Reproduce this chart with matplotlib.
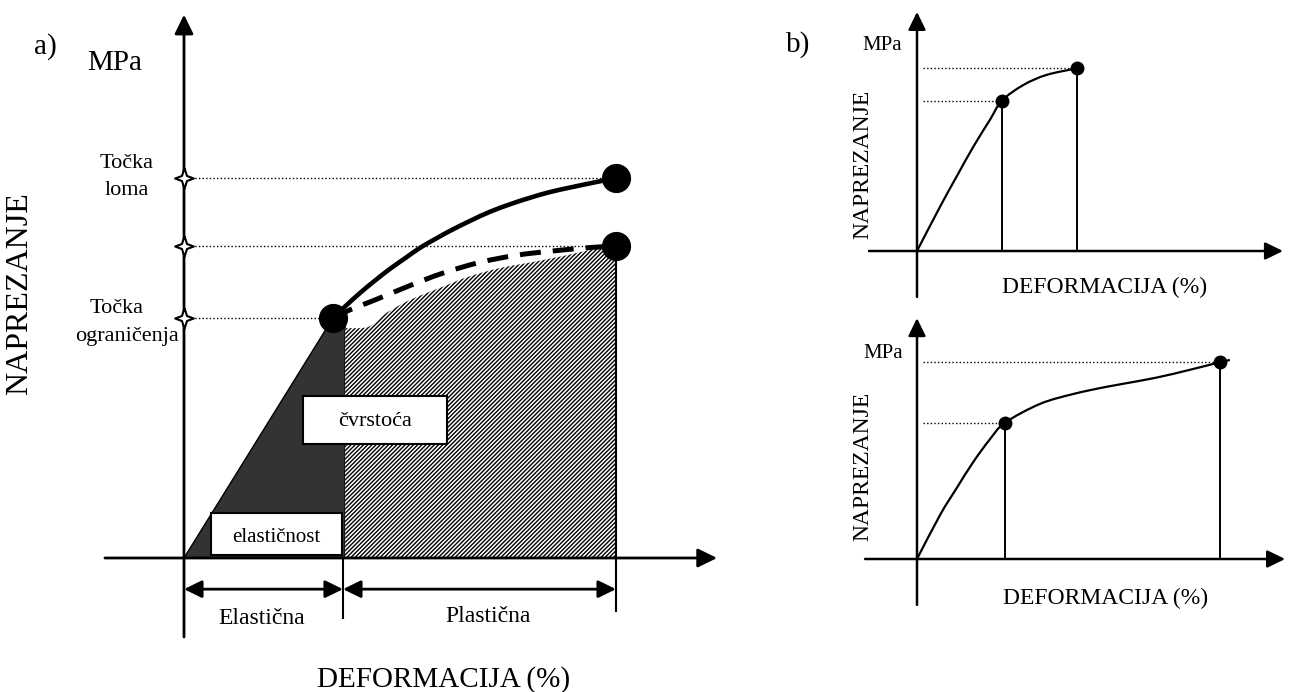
import matplotlib
matplotlib.use('Agg')
import matplotlib.pyplot as plt
from matplotlib.patches import Polygon, Rectangle, PathPatch
from matplotlib.path import Path

plt.rcParams['font.family'] = ['Liberation Serif', 'DejaVu Serif']
plt.rcParams['hatch.linewidth'] = 1.0

# ---------------- data (panel a: strain 0..10, stress 0..10) ----------------
a_solid_x = [3.45, 3.73, 4.07, 4.42, 4.77, 5.12, 5.46, 5.81, 6.16, 6.62, 7.08, 7.55, 8.01, 8.47, 8.94, 9.40, 10.0]
a_solid_y = [6.32, 6.62, 6.97, 7.30, 7.61, 7.89, 8.16, 8.39, 8.61, 8.87, 9.11, 9.31, 9.48, 9.63, 9.75, 9.86, 10.0]
a_dash_x = [3.45, 3.84, 4.42, 5.23, 6.0, 6.85, 7.71, 8.54, 9.40, 10.0]
a_dash_y = [6.32, 6.53, 6.79, 7.17, 7.50, 7.78, 7.97, 8.08, 8.17, 8.21]
a_hatch_x = [3.73, 4.26, 4.61, 5.0, 5.39, 5.93, 6.55, 7.31, 8.08, 8.87, 9.63, 10.0]
a_hatch_y = [6.05, 6.08, 6.39, 6.66, 6.87, 7.11, 7.39, 7.63, 7.79, 7.97, 8.16, 8.21]
a_yield = (3.45, 6.32)
a_elastic_limit = 3.68
a_break = (10.0, 10.0)
a_dash_end = (10.0, 8.21)
a_stress_levels = [10.0, 8.21, 6.32]

# panel b top
b1_x = [0, 0.77, 1.32, 1.88, 2.43, 2.83, 3.54, 4.32, 5.34]
b1_y = [0, 1.48, 2.48, 3.48, 4.37, 5.01, 5.53, 5.87, 6.09]
b1_pts_x = [2.83, 5.34]
b1_pts_y = [5.01, 6.09]

# panel b bottom
b2_x = [0, 0.77, 1.32, 1.88, 2.43, 2.93, 4.10, 5.21, 6.32, 7.43, 8.54, 10.1, 10.43]
b2_y = [0, 1.47, 2.36, 3.24, 3.99, 4.54, 5.17, 5.50, 5.74, 5.94, 6.17, 6.56, 6.63]
b2_pts_x = [2.93, 10.1]
b2_pts_y = [4.54, 6.56]

# ---------------- figure ----------------
W, H = 1293, 692
fig = plt.figure(figsize=(W / 100, H / 100), dpi=100)
fig.patch.set_facecolor('white')


def panel(ox, oy, sx, sy):
    ax = fig.add_axes([0, 0, 1, 1])
    ax.set_xlim(-ox / sx, (W - ox) / sx)
    ax.set_ylim(-(H - oy) / sy, oy / sy)
    ax.set_axis_off()
    ax.patch.set_visible(False)
    return ax


def arrow(ax, x0, y0, x1, y1, style='-|>', lw=2.0, ms=26):
    ax.annotate('', xy=(x1, y1), xytext=(x0, y0),
                arrowprops=dict(arrowstyle=style + ',head_length=0.45,head_width=0.22',
                                color='black', lw=lw, shrinkA=0, shrinkB=0,
                                mutation_scale=ms))


def smooth_segments(xs, ys):
    """Bezier (Catmull-Rom) segments through the read points."""
    pts = list(zip(xs, ys))
    verts, codes = [], []
    n = len(pts)
    for i in range(n - 1):
        p0 = pts[i - 1] if i > 0 else pts[i]
        p1, p2 = pts[i], pts[i + 1]
        p3 = pts[i + 2] if i + 2 < n else pts[i + 1]
        c1 = (p1[0] + (p2[0] - p0[0]) / 6, p1[1] + (p2[1] - p0[1]) / 6)
        c2 = (p2[0] - (p3[0] - p1[0]) / 6, p2[1] - (p3[1] - p1[1]) / 6)
        verts += [c1, c2, p2]
        codes += [Path.CURVE4] * 3
    return verts, codes


def smooth_curve(ax, xs, ys, **kw):
    v, c = smooth_segments(xs, ys)
    path = Path([(xs[0], ys[0])] + v, [Path.MOVETO] + c)
    ax.add_patch(PathPatch(path, fill=False, capstyle='butt', **kw))


dot = (0, (1, 1.6))

# ---------------- panel a ----------------
ax = panel(184, 558, 43.2, 38)
# dark elastic area
ax.add_patch(Polygon([(0, 0), a_yield, (a_elastic_limit + 0.05, a_yield[1]),
                      (a_elastic_limit + 0.05, 0)], closed=True,
                     facecolor='#333333', edgecolor='black', lw=1.0, zorder=2))
# hatched plastic area with a smooth top
v, c = smooth_segments(a_hatch_x, a_hatch_y)
hpath = Path([(a_elastic_limit + 0.05, 0), (a_hatch_x[0], a_hatch_y[0])] + v +
             [(a_break[0], 0), (a_elastic_limit + 0.05, 0)],
             [Path.MOVETO, Path.LINETO] + c + [Path.LINETO, Path.CLOSEPOLY])
ax.add_patch(PathPatch(hpath, facecolor='white', edgecolor='black', lw=0,
                       hatch='////////', zorder=2))
# guide lines
for s, xe in zip(a_stress_levels, [a_break[0], a_dash_end[0], a_yield[0]]):
    ax.plot([0, xe], [s, s], color='black', lw=1.0, linestyle=dot, zorder=3)
# axes
arrow(ax, 0, -2.08, 0, 14.3, lw=2.0, ms=26)
arrow(ax, -1.83, 0, 12.34, 0, lw=2.0, ms=26)
# boundary lines
ax.plot([a_elastic_limit, a_elastic_limit], [0, -1.58], color='black', lw=1.5, zorder=3)
ax.plot([a_break[0], a_break[0]], [a_dash_end[1], -1.39], color='black', lw=1.5, zorder=3)
# dimension arrows
arrow(ax, a_elastic_limit, -0.82, 0, -0.82, style='<|-|>', lw=2.0, ms=24)
arrow(ax, a_elastic_limit, -0.82, a_break[0], -0.82, style='<|-|>', lw=2.0, ms=24)
# curves
smooth_curve(ax, a_solid_x, a_solid_y, edgecolor='black', lw=3.3, zorder=4)
smooth_curve(ax, a_dash_x, a_dash_y, edgecolor='black', lw=3.6,
             linestyle=(0, (4.2, 2.4)), zorder=4)
ax.plot([a_yield[0], a_break[0], a_dash_end[0]], [a_yield[1], a_break[1], a_dash_end[1]],
        'o', color='black', ms=20, zorder=5)
# star ticks on stress axis
star = [(0, 1), (0.24, 0.24), (0.9, 0), (0.24, -0.24), (0, -1), (-0.24, -0.24),
        (-0.9, 0), (-0.24, 0.24), (0, 1)]
ax.plot([0] * len(a_stress_levels), a_stress_levels, linestyle='none', marker=star,
        ms=15, mfc='white', mec='black', mew=1.5, zorder=6)

# ---------------- panel b top ----------------
bx = panel(917, 251, 30, 30)
arrow(bx, 0, -1.53, 0, 7.97, lw=1.8, ms=24)
arrow(bx, -1.6, 0, 12.2, 0, lw=1.8, ms=24)
for px_, py_ in zip(b1_pts_x, b1_pts_y):
    bx.plot([0.2, px_], [py_, py_], color='black', lw=1.0, linestyle=dot)
    bx.plot([px_, px_], [0, py_], color='black', lw=1.4)
smooth_curve(bx, b1_x, b1_y, edgecolor='black', lw=1.6)
bx.plot(b1_pts_x, b1_pts_y, 'o', color='black', ms=9)

# ---------------- panel b bottom ----------------
cx = panel(917, 559, 30, 30)
arrow(cx, 0, -1.53, 0, 8.03, lw=1.8, ms=24)
arrow(cx, -1.73, 0, 12.27, 0, lw=1.8, ms=24)
for px_, py_ in zip(b2_pts_x, b2_pts_y):
    cx.plot([0.2, px_], [py_, py_], color='black', lw=1.0, linestyle=dot)
    cx.plot([px_, px_], [0, py_], color='black', lw=1.4)
smooth_curve(cx, b2_x, b2_y, edgecolor='black', lw=1.6)
cx.plot(b2_pts_x, b2_pts_y, 'o', color='black', ms=9)

# ---------------- text layer (pixel coordinates) ----------------
lay = fig.add_axes([0, 0, 1, 1])
lay.set_xlim(0, W)
lay.set_ylim(H, 0)
lay.set_axis_off()
lay.patch.set_visible(False)

lay.add_patch(Rectangle((211, 513), 131, 42, facecolor='white', edgecolor='black', lw=1.5, zorder=5))
lay.add_patch(Rectangle((303, 396), 144, 48, facecolor='white', edgecolor='black', lw=1.5, zorder=5))


def t(x, y, s, size, va='center', ha='center', rot=0):
    lay.text(x, y, s, fontsize=size, ha=ha, va=va, rotation=rot, zorder=6)


t(45, 47, 'a)', 21)
t(115, 63, 'MPa', 21)
t(127, 168, 'Točka', 16, va='baseline')
t(127, 195, 'loma', 16, va='baseline')
t(117, 313, 'Točka', 16, va='baseline')
t(127, 341, 'ograničenja', 16, va='baseline')
t(20, 294, 'NAPREZANJE', 23, rot=90)
t(444, 687, 'DEFORMACIJA (%)', 21, va='baseline')
t(262, 618, 'Elastična', 17)
t(488, 617, 'Plastična', 17)
t(276, 537, 'elastičnost', 15)
t(375, 422, 'čvrstoća', 16)

t(798, 45, 'b)', 21)
t(882, 46, 'MPa', 15)
t(863, 164, 'NAPREZANJE', 17, rot=90)
t(1105, 287, 'DEFORMACIJA (%)', 17)
t(883, 353, 'MPa', 15)
t(863, 466, 'NAPREZANJE', 17, rot=90)
t(1106, 598, 'DEFORMACIJA (%)', 17)

fig.savefig('out.png', dpi=100, facecolor='white')
